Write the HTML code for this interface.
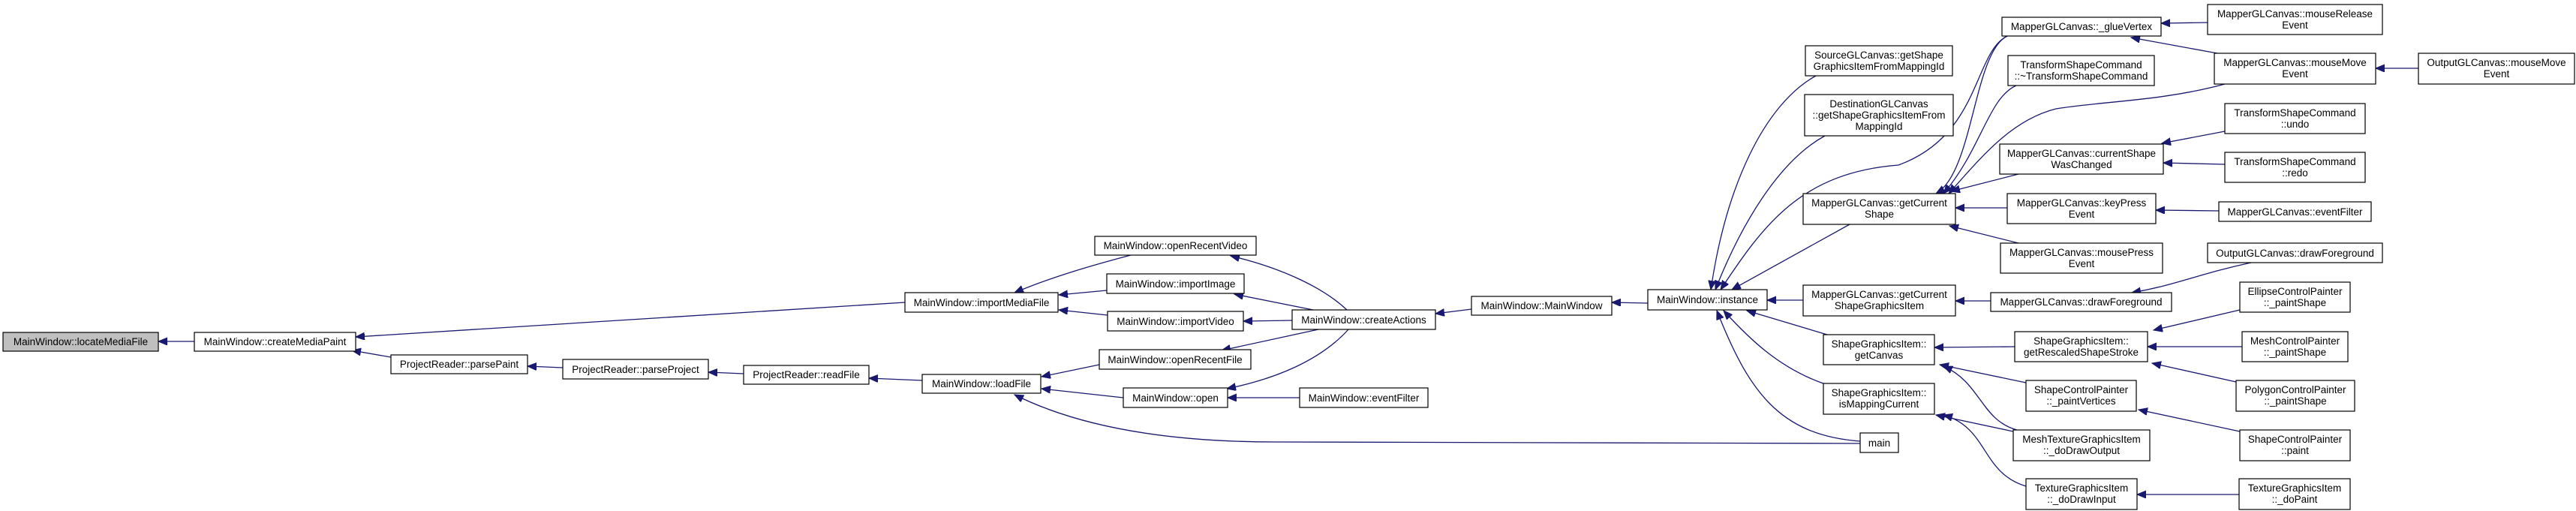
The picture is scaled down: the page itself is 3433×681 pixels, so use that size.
<!DOCTYPE html>
<html><head><meta charset="utf-8"><style>
html,body{margin:0;padding:0;background:#fff;}
svg{display:block;}
text{font-family:"Liberation Sans",Arial,sans-serif;font-size:13.5px;fill:#000;text-anchor:middle;}
rect{fill:#fff;stroke:#000;stroke-width:1.2;}
path.e{fill:none;stroke:#191970;stroke-width:1.3;}
</style></head><body>
<svg width="3433" height="681" viewBox="0 0 3433 681" xmlns="http://www.w3.org/2000/svg">
<defs>
<marker id="a" markerUnits="userSpaceOnUse" markerWidth="14" markerHeight="12" refX="12" refY="5" orient="auto">
<path d="M0,0 L12,5 L0,10 z" fill="#191970" stroke="#191970"/>
</marker>
</defs>
<g id="edges">
<path class="e" marker-end="url(#a)" d="M259,455 L211,455"/>
<path class="e" marker-end="url(#a)" d="M1206,403 C900,420 600,440 474,449"/>
<path class="e" marker-end="url(#a)" d="M521,476 L469,467"/>
<path class="e" marker-end="url(#a)" d="M750,490 L703,488"/>
<path class="e" marker-end="url(#a)" d="M991,498 L944,496"/>
<path class="e" marker-end="url(#a)" d="M1229,507 L1158,504"/>
<path class="e" marker-end="url(#a)" d="M1507,340 C1450,355 1400,370 1352,390"/>
<path class="e" marker-end="url(#a)" d="M1475,387 L1411,393"/>
<path class="e" marker-end="url(#a)" d="M1476,420 L1411,413"/>
<path class="e" marker-end="url(#a)" d="M1465,486 L1388,502"/>
<path class="e" marker-end="url(#a)" d="M1497,530 L1388,518"/>
<path class="e" marker-end="url(#a)" d="M2479,591 L1700,589 C1560,589 1440,570 1352,526"/>
<path class="e" marker-end="url(#a)" d="M1795,413 C1760,380 1700,355 1640,341"/>
<path class="e" marker-end="url(#a)" d="M1750,413 L1645,392"/>
<path class="e" marker-end="url(#a)" d="M1722,427 L1657,428"/>
<path class="e" marker-end="url(#a)" d="M1757,439 L1628,467"/>
<path class="e" marker-end="url(#a)" d="M1797,439 C1760,480 1700,505 1635,518"/>
<path class="e" marker-end="url(#a)" d="M1732,530 L1636,530"/>
<path class="e" marker-end="url(#a)" d="M1961,412 L1913,418"/>
<path class="e" marker-end="url(#a)" d="M2196,404 L2148,403"/>
<path class="e" marker-end="url(#a)" d="M2420,101 C2350,140 2300,250 2280,386"/>
<path class="e" marker-end="url(#a)" d="M2432,181 C2370,215 2320,300 2286,386"/>
<path class="e" marker-end="url(#a)" d="M2675,48 C2630,70 2640,180 2530,220 C2400,230 2350,300 2293,386"/>
<path class="e" marker-end="url(#a)" d="M2465,299 L2308,386"/>
<path class="e" marker-end="url(#a)" d="M2403,400 L2355,400"/>
<path class="e" marker-end="url(#a)" d="M2435,446 L2328,414"/>
<path class="e" marker-end="url(#a)" d="M2430,511 C2370,490 2330,450 2297,414"/>
<path class="e" marker-end="url(#a)" d="M2479,588 C2370,580 2330,520 2288,414"/>
<path class="e" marker-end="url(#a)" d="M2675,48 C2630,70 2630,230 2580,258"/>
<path class="e" marker-end="url(#a)" d="M2687,114 C2650,130 2640,200 2590,258"/>
<path class="e" marker-end="url(#a)" d="M2965,112 C2880,135 2800,135 2740,145 C2680,160 2640,210 2597,258"/>
<path class="e" marker-end="url(#a)" d="M2690,232 L2600,255"/>
<path class="e" marker-end="url(#a)" d="M2675,277 L2606,277"/>
<path class="e" marker-end="url(#a)" d="M2690,324 L2598,301"/>
<path class="e" marker-end="url(#a)" d="M2653,401 L2606,401"/>
<path class="e" marker-end="url(#a)" d="M2685,462 L2578,463"/>
<path class="e" marker-end="url(#a)" d="M2700,510 L2585,486"/>
<path class="e" marker-end="url(#a)" d="M2688,573 C2640,560 2640,510 2590,488"/>
<path class="e" marker-end="url(#a)" d="M2683,575 L2580,553"/>
<path class="e" marker-end="url(#a)" d="M2700,648 C2640,630 2650,570 2590,553"/>
<path class="e" marker-end="url(#a)" d="M2942,30 L2880,31"/>
<path class="e" marker-end="url(#a)" d="M2955,71 L2840,50"/>
<path class="e" marker-end="url(#a)" d="M2965,175 L2881,191"/>
<path class="e" marker-end="url(#a)" d="M2965,219 L2883,217"/>
<path class="e" marker-end="url(#a)" d="M2957,281 L2873,280"/>
<path class="e" marker-end="url(#a)" d="M3000,350 C2930,365 2900,380 2841,390"/>
<path class="e" marker-end="url(#a)" d="M2985,413 L2870,440"/>
<path class="e" marker-end="url(#a)" d="M2988,462 L2862,462"/>
<path class="e" marker-end="url(#a)" d="M2980,509 L2868,484"/>
<path class="e" marker-end="url(#a)" d="M2985,575 L2850,546"/>
<path class="e" marker-end="url(#a)" d="M2984,659 L2848,659"/>
<path class="e" marker-end="url(#a)" d="M3223,91 L3166,91"/>
</g>
<g id="nodes">
<rect x="4" y="443" width="207" height="25" style="fill:#bfbfbf"/><text x="107.5" y="460">MainWindow::locateMediaFile</text>
<rect x="259" y="443" width="215" height="25"/><text x="366.5" y="460">MainWindow::createMediaPaint</text>
<rect x="1206" y="390" width="204" height="26"/><text x="1308" y="408">MainWindow::importMediaFile</text>
<rect x="521" y="473" width="182" height="25"/><text x="612" y="490">ProjectReader::parsePaint</text>
<rect x="750" y="479" width="194" height="26"/><text x="847" y="497">ProjectReader::parseProject</text>
<rect x="991" y="487" width="167" height="25"/><text x="1074.5" y="504">ProjectReader::readFile</text>
<rect x="1229" y="499" width="158" height="25"/><text x="1308" y="516">MainWindow::loadFile</text>
<rect x="1459" y="315" width="215" height="25"/><text x="1566.5" y="332">MainWindow::openRecentVideo</text>
<rect x="1475" y="365" width="183" height="26"/><text x="1566.5" y="383">MainWindow::importImage</text>
<rect x="1476" y="415" width="181" height="26"/><text x="1566.5" y="433">MainWindow::importVideo</text>
<rect x="1465" y="466" width="202" height="26"/><text x="1566" y="484">MainWindow::openRecentFile</text>
<rect x="1497" y="517" width="139" height="26"/><text x="1566.5" y="535">MainWindow::open</text>
<rect x="1722" y="413" width="191" height="26"/><text x="1817.5" y="431">MainWindow::createActions</text>
<rect x="1732" y="517" width="171" height="26"/><text x="1817.5" y="535">MainWindow::eventFilter</text>
<rect x="1961" y="395" width="187" height="25"/><text x="2054.5" y="412">MainWindow::MainWindow</text>
<rect x="2196" y="386" width="159" height="27"/><text x="2275.5" y="404">MainWindow::instance</text>
<rect x="2406" y="61" width="196" height="40"/><text x="2504" y="78">SourceGLCanvas::getShape</text><text x="2504" y="93">GraphicsItemFromMappingId</text>
<rect x="2405" y="126" width="198" height="55"/><text x="2504" y="143">DestinationGLCanvas</text><text x="2504" y="158">::getShapeGraphicsItemFrom</text><text x="2504" y="173">MappingId</text>
<rect x="2403" y="258" width="203" height="41"/><text x="2504.5" y="275">MapperGLCanvas::getCurrent</text><text x="2504.5" y="290">Shape</text>
<rect x="2403" y="380" width="203" height="41"/><text x="2504.5" y="397">MapperGLCanvas::getCurrent</text><text x="2504.5" y="412">ShapeGraphicsItem</text>
<rect x="2430" y="446" width="148" height="40"/><text x="2504" y="463">ShapeGraphicsItem::</text><text x="2504" y="478">getCanvas</text>
<rect x="2430" y="511" width="148" height="41"/><text x="2504" y="528">ShapeGraphicsItem::</text><text x="2504" y="543">isMappingCurrent</text>
<rect x="2479" y="577" width="51" height="26"/><text x="2504.5" y="595">main</text>
<rect x="2668" y="23" width="212" height="25"/><text x="2774" y="40">MapperGLCanvas::_glueVertex</text>
<rect x="2676" y="74" width="195" height="40"/><text x="2773.5" y="91">TransformShapeCommand</text><text x="2773.5" y="106">::~TransformShapeCommand</text>
<rect x="2665" y="192" width="218" height="40"/><text x="2774" y="209">MapperGLCanvas::currentShape</text><text x="2774" y="224">WasChanged</text>
<rect x="2675" y="258" width="198" height="40"/><text x="2774" y="275">MapperGLCanvas::keyPress</text><text x="2774" y="290">Event</text>
<rect x="2666" y="324" width="216" height="40"/><text x="2774" y="341">MapperGLCanvas::mousePress</text><text x="2774" y="356">Event</text>
<rect x="2653" y="390" width="241" height="25"/><text x="2773.5" y="407">MapperGLCanvas::drawForeground</text>
<rect x="2685" y="442" width="177" height="40"/><text x="2773.5" y="459">ShapeGraphicsItem::</text><text x="2773.5" y="474">getRescaledShapeStroke</text>
<rect x="2700" y="507" width="147" height="41"/><text x="2773.5" y="524">ShapeControlPainter</text><text x="2773.5" y="539">::_paintVertices</text>
<rect x="2683" y="573" width="182" height="41"/><text x="2774" y="590">MeshTextureGraphicsItem</text><text x="2774" y="605">::_doDrawOutput</text>
<rect x="2700" y="638" width="148" height="41"/><text x="2774" y="655">TextureGraphicsItem</text><text x="2774" y="670">::_doDrawInput</text>
<rect x="2942" y="6" width="233" height="40"/><text x="3058.5" y="23">MapperGLCanvas::mouseRelease</text><text x="3058.5" y="38">Event</text>
<rect x="2951" y="71" width="215" height="41"/><text x="3058.5" y="88">MapperGLCanvas::mouseMove</text><text x="3058.5" y="103">Event</text>
<rect x="3223" y="71" width="208" height="41"/><text x="3327" y="88">OutputGLCanvas::mouseMove</text><text x="3327" y="103">Event</text>
<rect x="2965" y="138" width="187" height="40"/><text x="3058.5" y="155">TransformShapeCommand</text><text x="3058.5" y="170">::undo</text>
<rect x="2965" y="203" width="187" height="40"/><text x="3058.5" y="220">TransformShapeCommand</text><text x="3058.5" y="235">::redo</text>
<rect x="2957" y="269" width="203" height="26"/><text x="3058.5" y="287">MapperGLCanvas::eventFilter</text>
<rect x="2942" y="324" width="233" height="26"/><text x="3058.5" y="342">OutputGLCanvas::drawForeground</text>
<rect x="2985" y="376" width="147" height="40"/><text x="3058.5" y="393">EllipseControlPainter</text><text x="3058.5" y="408">::_paintShape</text>
<rect x="2988" y="442" width="141" height="40"/><text x="3058.5" y="459">MeshControlPainter</text><text x="3058.5" y="474">::_paintShape</text>
<rect x="2980" y="507" width="158" height="41"/><text x="3059" y="524">PolygonControlPainter</text><text x="3059" y="539">::_paintShape</text>
<rect x="2985" y="573" width="147" height="41"/><text x="3058.5" y="590">ShapeControlPainter</text><text x="3058.5" y="605">::paint</text>
<rect x="2984" y="638" width="148" height="41"/><text x="3058" y="655">TextureGraphicsItem</text><text x="3058" y="670">::_doPaint</text>
</g>
</svg>
</body></html>
